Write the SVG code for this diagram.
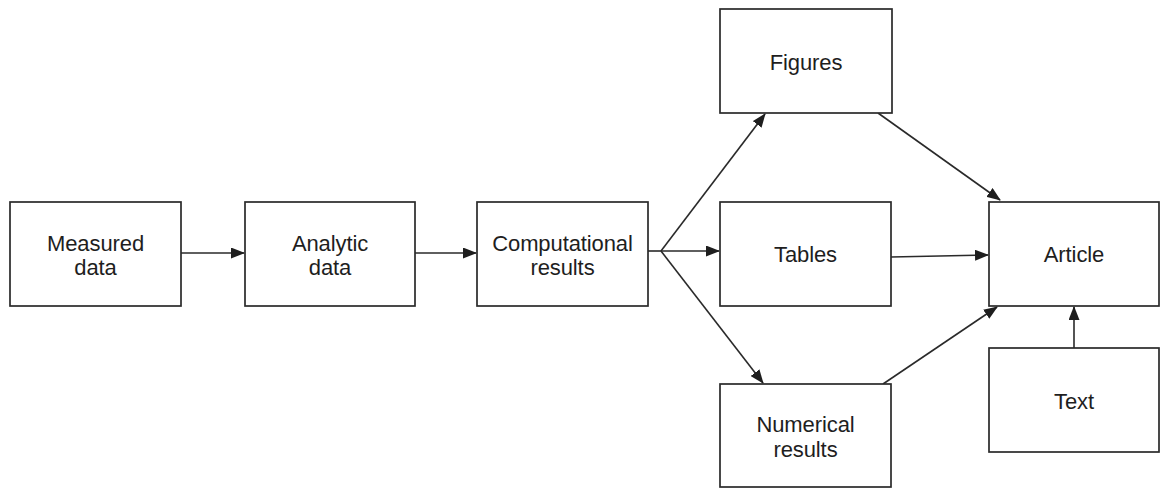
<svg xmlns="http://www.w3.org/2000/svg" width="1160" height="489" viewBox="0 0 1160 489">
<style>
.box{fill:#fff;stroke:#2a2a2a;stroke-width:1.7}
.lbl{font-family:"Liberation Sans",Arial,sans-serif;font-size:22px;fill:#1e1e1e;text-anchor:middle;letter-spacing:-0.1px}
.con{fill:none;stroke:#2a2a2a;stroke-width:1.6}
</style>
<defs>
<marker id="ah" markerWidth="14" markerHeight="11" refX="13" refY="5.5" orient="auto" markerUnits="userSpaceOnUse">
<path d="M0,0 L14,5.5 L0,11 Z" fill="#1e1e1e"/>
</marker>
</defs>
<rect width="1160" height="489" fill="#fff"/>
<g id="connectors">
<line class="con" x1="181" y1="253" x2="244" y2="253" marker-end="url(#ah)"/>
<line class="con" x1="415" y1="253" x2="476" y2="253" marker-end="url(#ah)"/>
<line class="con" x1="648" y1="251" x2="661" y2="251"/>
<line class="con" x1="661" y1="251" x2="765" y2="114" marker-end="url(#ah)"/>
<line class="con" x1="661" y1="251" x2="719" y2="251" marker-end="url(#ah)"/>
<line class="con" x1="661" y1="251" x2="763" y2="383" marker-end="url(#ah)"/>
<line class="con" x1="878" y1="113" x2="1000" y2="200" marker-end="url(#ah)"/>
<line class="con" x1="891" y1="257" x2="988" y2="255" marker-end="url(#ah)"/>
<line class="con" x1="883" y1="384" x2="997" y2="307" marker-end="url(#ah)"/>
<line class="con" x1="1074" y1="348" x2="1074" y2="307" marker-end="url(#ah)"/>
</g>
<g id="measured"><rect class="box" x="10" y="202" width="171" height="104"/><text class="lbl" x="95.5" y="251">Measured</text><text class="lbl" x="95.5" y="275">data</text></g>
<g id="analytic"><rect class="box" x="245" y="202" width="170" height="104"/><text class="lbl" x="330" y="251">Analytic</text><text class="lbl" x="330" y="275">data</text></g>
<g id="computational"><rect class="box" x="477" y="202" width="171" height="104"/><text class="lbl" x="562.5" y="251">Computational</text><text class="lbl" x="562.5" y="275">results</text></g>
<g id="figures"><rect class="box" x="720" y="9" width="172" height="104"/><text class="lbl" x="806" y="70">Figures</text></g>
<g id="tables"><rect class="box" x="720" y="202" width="171" height="104"/><text class="lbl" x="805.5" y="262">Tables</text></g>
<g id="numerical"><rect class="box" x="720" y="384" width="171" height="103"/><text class="lbl" x="805.5" y="432">Numerical</text><text class="lbl" x="805.5" y="457">results</text></g>
<g id="article"><rect class="box" x="989" y="202" width="170" height="104"/><text class="lbl" x="1074" y="262">Article</text></g>
<g id="text"><rect class="box" x="989" y="348" width="170" height="104"/><text class="lbl" x="1074" y="409">Text</text></g>
</svg>
